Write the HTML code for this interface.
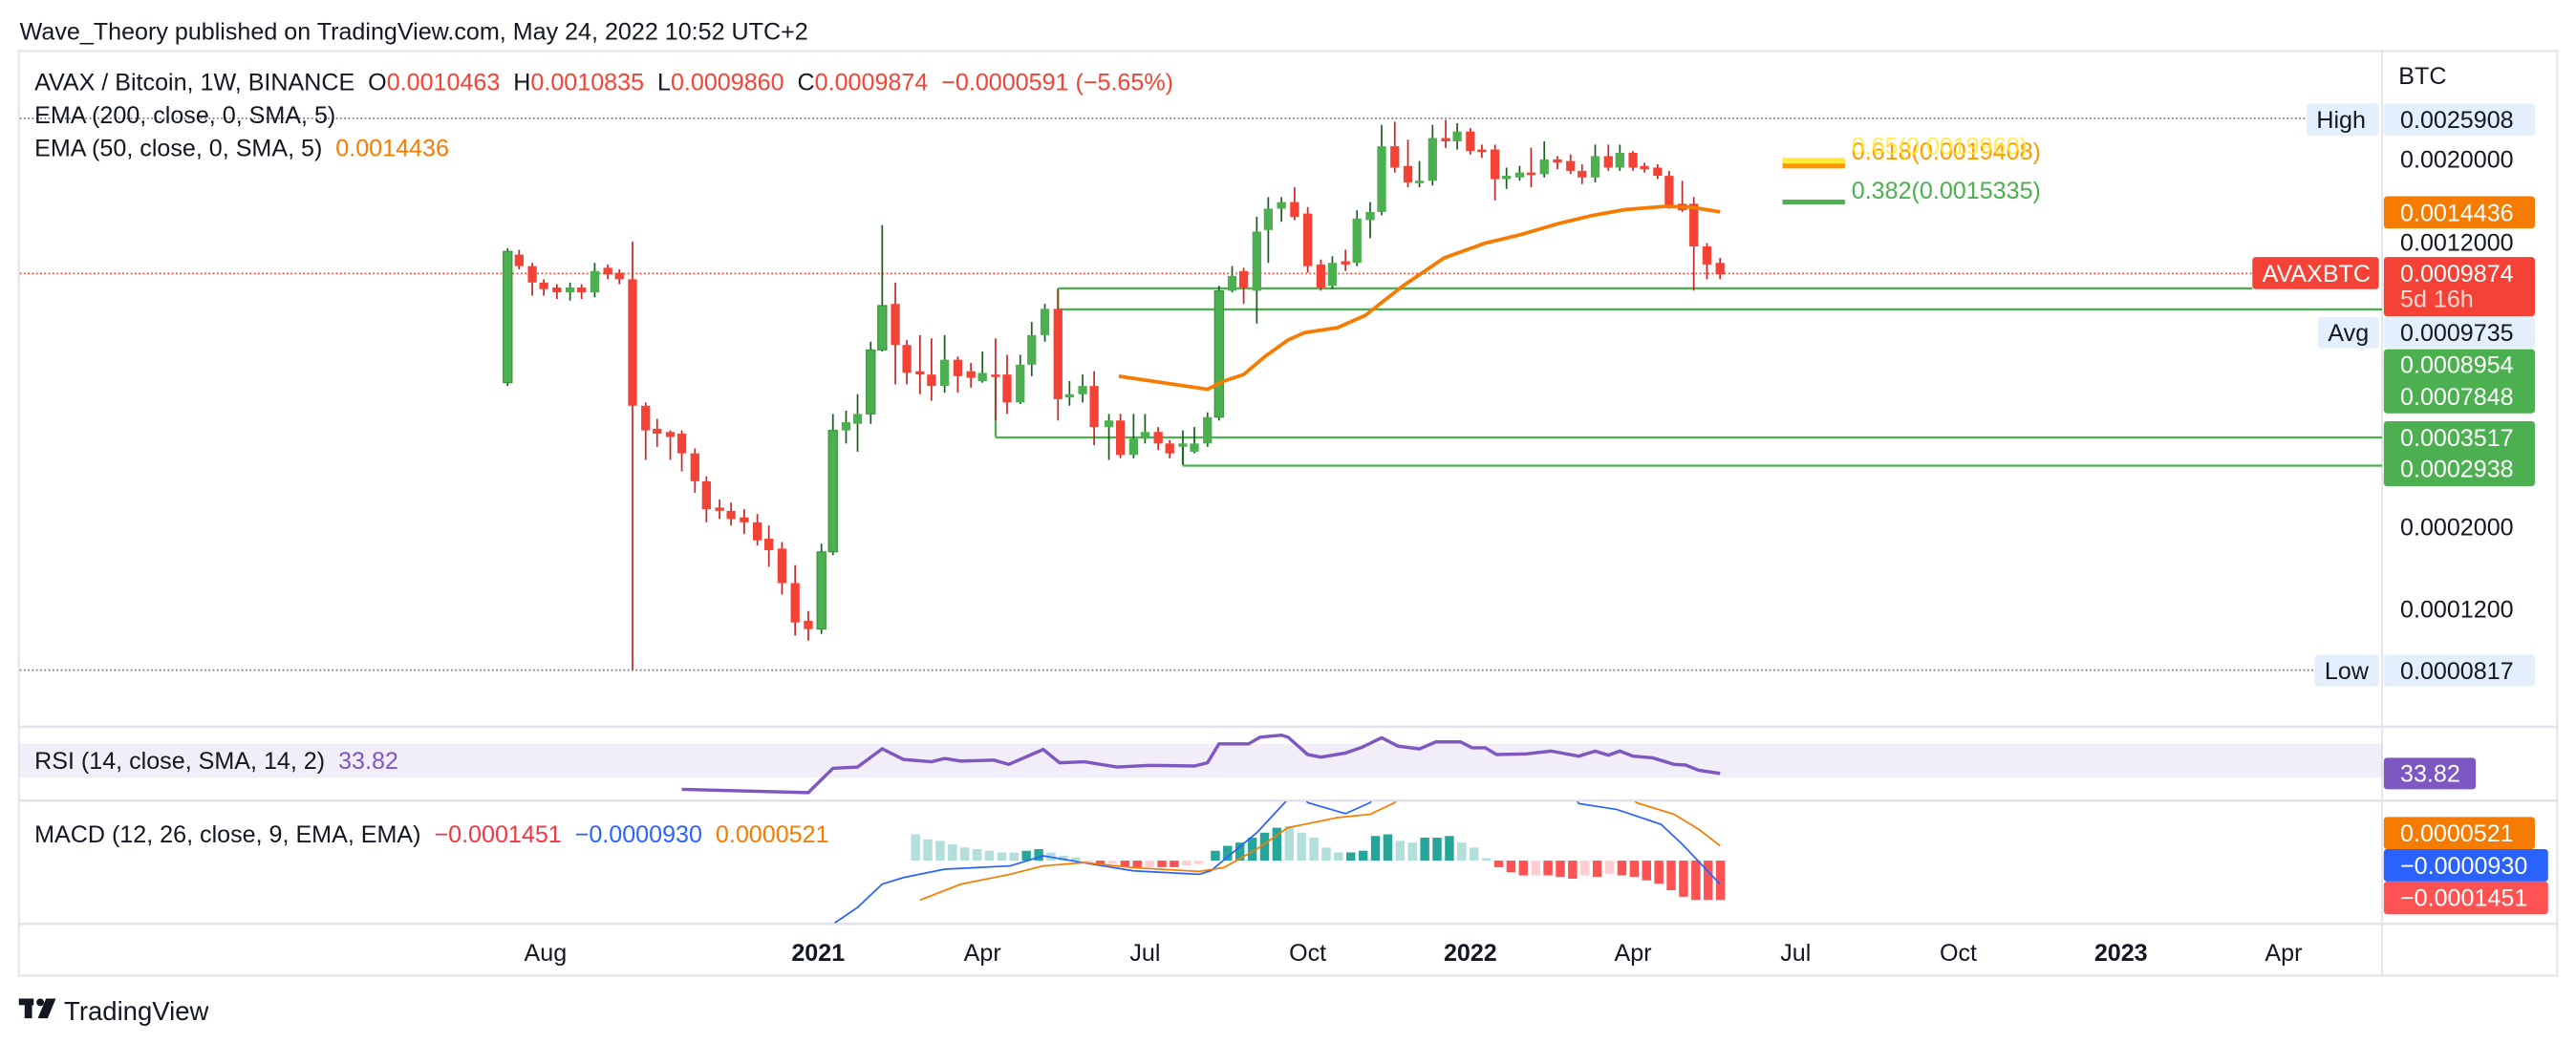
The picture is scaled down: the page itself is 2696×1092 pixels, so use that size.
<!DOCTYPE html>
<html><head><meta charset="utf-8"><style>
html,body{margin:0;padding:0;background:#fff;}
svg{display:block;}
text{font-family:"Liberation Sans",sans-serif;white-space:pre;}
</style></head><body>
<svg width="2696" height="1092" viewBox="0 0 1568 635" xmlns="http://www.w3.org/2000/svg" xml:space="preserve">
<rect x="0" y="0" width="1568" height="635" fill="#fff"/>
<text x="12" y="24" font-size="14.6" fill="#131722">Wave_Theory published on TradingView.com, May 24, 2022 10:52 UTC+2</text>
<rect x="11.5" y="31" width="1545" height="563" fill="none" stroke="#e8e8ee" stroke-width="1.5"/>
<line x1="1450" y1="31" x2="1450" y2="594" stroke="#e0e3eb" stroke-width="1"/>
<line x1="11.5" y1="442.5" x2="1557" y2="442.5" stroke="#e0e3eb" stroke-width="1.5"/>
<line x1="11.5" y1="487.5" x2="1557" y2="487.5" stroke="#e0e3eb" stroke-width="1.5"/>
<line x1="11.5" y1="562.5" x2="1557" y2="562.5" stroke="#e0e3eb" stroke-width="1.5"/>
<rect x="12" y="453" width="1438" height="20.5" fill="#7e57c2" fill-opacity="0.1"/>
<line x1="12" y1="72" x2="1404" y2="72" stroke="#787b86" stroke-width="1" stroke-dasharray="1,1.5"/>
<line x1="12" y1="408" x2="1409" y2="408" stroke="#787b86" stroke-width="1" stroke-dasharray="1,1.5"/>
<line x1="12" y1="166.5" x2="1371" y2="166.5" stroke="#f44336" stroke-width="1" stroke-dasharray="1,1.5"/>
<g stroke="#4caf50" stroke-width="1.3">
<line x1="644" y1="175.5" x2="1371" y2="175.5"/>
<line x1="644" y1="188.3" x2="1450" y2="188.3"/>
<line x1="606" y1="266.3" x2="1450" y2="266.3"/>
<line x1="720" y1="283.5" x2="1450" y2="283.5"/>
<line x1="644" y1="175.5" x2="644" y2="188"/>
<line x1="606" y1="229" x2="606" y2="266"/>
<line x1="720" y1="272" x2="720" y2="283"/>
</g>
<rect x="1085" y="96" width="38" height="3.5" fill="#ffeb3b"/>
<rect x="1085" y="99.5" width="38" height="3" fill="#ff9800"/>
<rect x="1085" y="121.5" width="38" height="3" fill="#4caf50"/>
<text x="1127" y="97" font-size="14.6" fill="#ff9800">0.618(0.0019408)</text>
<text x="1127" y="94" font-size="14.6" fill="#ffeb3b" fill-opacity="0.85">0.65(0.0019960)</text>
<text x="1127" y="121" font-size="14.6" fill="#4caf50">0.382(0.0015335)</text>
<g stroke-width="1">
<line x1="309" y1="151" x2="309" y2="235" stroke="#1b5e20"/><rect x="306.3" y="153" width="5.4" height="80" fill="#4caf50" stroke="#388e3c" stroke-width=".6"/>
<line x1="316" y1="152" x2="316" y2="164" stroke="#c62828"/><rect x="313.3" y="155" width="5.4" height="7" fill="#f44336"/>
<line x1="324" y1="160" x2="324" y2="180" stroke="#c62828"/><rect x="321.3" y="162" width="5.4" height="10" fill="#f44336"/>
<line x1="331" y1="170" x2="331" y2="180" stroke="#c62828"/><rect x="328.3" y="172" width="5.4" height="4" fill="#f44336"/>
<line x1="339" y1="173" x2="339" y2="182" stroke="#c62828"/><rect x="336.3" y="175" width="5.4" height="3" fill="#f44336"/>
<line x1="347" y1="172" x2="347" y2="183" stroke="#1b5e20"/><rect x="344.3" y="175" width="5.4" height="3" fill="#4caf50"/>
<line x1="354" y1="173" x2="354" y2="182" stroke="#c62828"/><rect x="351.3" y="175" width="5.4" height="3" fill="#f44336"/>
<line x1="362" y1="160" x2="362" y2="181" stroke="#1b5e20"/><rect x="359.3" y="165" width="5.4" height="13" fill="#4caf50"/>
<line x1="370" y1="161" x2="370" y2="170" stroke="#c62828"/><rect x="367.3" y="163" width="5.4" height="4" fill="#f44336"/>
<line x1="377" y1="164" x2="377" y2="173" stroke="#c62828"/><rect x="374.3" y="166" width="5.4" height="4" fill="#f44336"/>
<line x1="385" y1="147" x2="385" y2="408" stroke="#c62828"/><rect x="382.3" y="170" width="5.4" height="77" fill="#f44336"/>
<line x1="393" y1="245" x2="393" y2="280" stroke="#c62828"/><rect x="390.3" y="247" width="5.4" height="15" fill="#f44336"/>
<line x1="400" y1="255" x2="400" y2="272" stroke="#c62828"/><rect x="397.3" y="261" width="5.4" height="3" fill="#f44336"/>
<line x1="408" y1="262" x2="408" y2="280" stroke="#c62828"/><rect x="405.3" y="263" width="5.4" height="3" fill="#f44336"/>
<line x1="415" y1="262" x2="415" y2="287" stroke="#c62828"/><rect x="412.3" y="264" width="5.4" height="12" fill="#f44336"/>
<line x1="423" y1="273" x2="423" y2="300" stroke="#c62828"/><rect x="420.3" y="276" width="5.4" height="17" fill="#f44336"/>
<line x1="430" y1="290" x2="430" y2="318" stroke="#c62828"/><rect x="427.3" y="293" width="5.4" height="17" fill="#f44336"/>
<line x1="438" y1="304" x2="438" y2="316" stroke="#c62828"/><rect x="435.3" y="309" width="5.4" height="2" fill="#f44336"/>
<line x1="445" y1="306" x2="445" y2="320" stroke="#c62828"/><rect x="442.3" y="311" width="5.4" height="5" fill="#f44336"/>
<line x1="453" y1="310" x2="453" y2="325" stroke="#c62828"/><rect x="450.3" y="315" width="5.4" height="3" fill="#f44336"/>
<line x1="461" y1="313" x2="461" y2="332" stroke="#c62828"/><rect x="458.3" y="318" width="5.4" height="11" fill="#f44336"/>
<line x1="468" y1="320" x2="468" y2="345" stroke="#c62828"/><rect x="465.3" y="328" width="5.4" height="7" fill="#f44336"/>
<line x1="476" y1="330" x2="476" y2="362" stroke="#c62828"/><rect x="473.3" y="334" width="5.4" height="21" fill="#f44336"/>
<line x1="484" y1="344" x2="484" y2="387" stroke="#c62828"/><rect x="481.3" y="355" width="5.4" height="24" fill="#f44336"/>
<line x1="492" y1="372" x2="492" y2="390" stroke="#c62828"/><rect x="489.3" y="378" width="5.4" height="5" fill="#f44336"/>
<line x1="500" y1="331" x2="500" y2="386" stroke="#1b5e20"/><rect x="497.3" y="336" width="5.4" height="47" fill="#4caf50" stroke="#388e3c" stroke-width=".6"/>
<line x1="507" y1="252" x2="507" y2="338" stroke="#1b5e20"/><rect x="504.3" y="262" width="5.4" height="74" fill="#4caf50" stroke="#388e3c" stroke-width=".6"/>
<line x1="515" y1="250" x2="515" y2="270" stroke="#1b5e20"/><rect x="512.3" y="257" width="5.4" height="5" fill="#4caf50"/>
<line x1="522" y1="240" x2="522" y2="275" stroke="#1b5e20"/><rect x="519.3" y="252" width="5.4" height="6" fill="#4caf50"/>
<line x1="530" y1="208" x2="530" y2="258" stroke="#1b5e20"/><rect x="527.3" y="213" width="5.4" height="39" fill="#4caf50" stroke="#388e3c" stroke-width=".6"/>
<line x1="537" y1="137" x2="537" y2="214" stroke="#1b5e20"/><rect x="534.3" y="186" width="5.4" height="27" fill="#4caf50" stroke="#388e3c" stroke-width=".6"/>
<line x1="545" y1="172" x2="545" y2="234" stroke="#c62828"/><rect x="542.3" y="185" width="5.4" height="25" fill="#f44336"/>
<line x1="552" y1="207" x2="552" y2="234" stroke="#c62828"/><rect x="549.3" y="210" width="5.4" height="17" fill="#f44336"/>
<line x1="560" y1="204" x2="560" y2="240" stroke="#c62828"/><rect x="557.3" y="226" width="5.4" height="2" fill="#f44336"/>
<line x1="567" y1="206" x2="567" y2="244" stroke="#c62828"/><rect x="564.3" y="228" width="5.4" height="7" fill="#f44336"/>
<line x1="575" y1="204" x2="575" y2="239" stroke="#1b5e20"/><rect x="572.3" y="219" width="5.4" height="16" fill="#4caf50"/>
<line x1="583" y1="217" x2="583" y2="239" stroke="#c62828"/><rect x="580.3" y="219" width="5.4" height="10" fill="#f44336"/>
<line x1="591" y1="221" x2="591" y2="236" stroke="#c62828"/><rect x="588.3" y="226" width="5.4" height="4" fill="#f44336"/>
<line x1="598" y1="214" x2="598" y2="233" stroke="#1b5e20"/><rect x="595.3" y="227" width="5.4" height="5" fill="#4caf50"/>
<line x1="606" y1="206" x2="606" y2="256" stroke="#c62828"/><rect x="603.3" y="228" width="5.4" height="1.5" fill="#f44336"/>
<line x1="613" y1="216" x2="613" y2="252" stroke="#c62828"/><rect x="610.3" y="228" width="5.4" height="17" fill="#f44336"/>
<line x1="621" y1="216" x2="621" y2="246" stroke="#1b5e20"/><rect x="618.3" y="222" width="5.4" height="23" fill="#4caf50"/>
<line x1="628" y1="196" x2="628" y2="229" stroke="#1b5e20"/><rect x="625.3" y="204" width="5.4" height="18" fill="#4caf50"/>
<line x1="636" y1="185" x2="636" y2="208" stroke="#1b5e20"/><rect x="633.3" y="188" width="5.4" height="16" fill="#4caf50"/>
<line x1="644" y1="176" x2="644" y2="256" stroke="#c62828"/><rect x="641.3" y="188" width="5.4" height="55" fill="#f44336"/>
<line x1="651" y1="232" x2="651" y2="247" stroke="#1b5e20"/><rect x="648.3" y="240" width="5.4" height="2" fill="#4caf50"/>
<line x1="659" y1="228" x2="659" y2="245" stroke="#1b5e20"/><rect x="656.3" y="235" width="5.4" height="5" fill="#4caf50"/>
<line x1="666" y1="226" x2="666" y2="271" stroke="#c62828"/><rect x="663.3" y="235" width="5.4" height="25" fill="#f44336"/>
<line x1="675" y1="252" x2="675" y2="280" stroke="#1b5e20"/><rect x="672.3" y="256" width="5.4" height="4" fill="#4caf50"/>
<line x1="682" y1="252" x2="682" y2="279" stroke="#c62828"/><rect x="679.3" y="256" width="5.4" height="21" fill="#f44336"/>
<line x1="690" y1="252" x2="690" y2="279" stroke="#1b5e20"/><rect x="687.3" y="267" width="5.4" height="10" fill="#4caf50"/>
<line x1="697" y1="252" x2="697" y2="270" stroke="#1b5e20"/><rect x="694.3" y="263" width="5.4" height="4" fill="#4caf50"/>
<line x1="705" y1="260" x2="705" y2="274" stroke="#c62828"/><rect x="702.3" y="263" width="5.4" height="7" fill="#f44336"/>
<line x1="712" y1="268" x2="712" y2="279" stroke="#c62828"/><rect x="709.3" y="270" width="5.4" height="6" fill="#f44336"/>
<line x1="720" y1="262" x2="720" y2="283" stroke="#1b5e20"/><rect x="717.3" y="270" width="5.4" height="2" fill="#4caf50"/>
<line x1="727" y1="260" x2="727" y2="276" stroke="#1b5e20"/><rect x="724.3" y="270" width="5.4" height="5" fill="#4caf50"/>
<line x1="735" y1="251" x2="735" y2="272" stroke="#1b5e20"/><rect x="732.3" y="254" width="5.4" height="16" fill="#4caf50"/>
<line x1="742" y1="174" x2="742" y2="256" stroke="#1b5e20"/><rect x="739.3" y="177" width="5.4" height="77" fill="#4caf50" stroke="#388e3c" stroke-width=".6"/>
<line x1="750" y1="162" x2="750" y2="178" stroke="#1b5e20"/><rect x="747.3" y="168" width="5.4" height="9" fill="#4caf50"/>
<line x1="757" y1="163" x2="757" y2="185" stroke="#c62828"/><rect x="754.3" y="165" width="5.4" height="10" fill="#f44336"/>
<line x1="765" y1="132" x2="765" y2="197" stroke="#1b5e20"/><rect x="762.3" y="141" width="5.4" height="36" fill="#4caf50"/>
<line x1="772" y1="120" x2="772" y2="160" stroke="#1b5e20"/><rect x="769.3" y="127" width="5.4" height="13" fill="#4caf50"/>
<line x1="780" y1="120" x2="780" y2="135" stroke="#1b5e20"/><rect x="777.3" y="123" width="5.4" height="4" fill="#4caf50"/>
<line x1="788" y1="114" x2="788" y2="134" stroke="#c62828"/><rect x="785.3" y="123" width="5.4" height="9" fill="#f44336"/>
<line x1="796" y1="126" x2="796" y2="166" stroke="#c62828"/><rect x="793.3" y="130" width="5.4" height="32" fill="#f44336"/>
<line x1="804" y1="158" x2="804" y2="177" stroke="#c62828"/><rect x="801.3" y="161" width="5.4" height="14" fill="#f44336"/>
<line x1="811" y1="156" x2="811" y2="176" stroke="#1b5e20"/><rect x="808.3" y="160" width="5.4" height="14" fill="#4caf50"/>
<line x1="819" y1="152" x2="819" y2="165" stroke="#c62828"/><rect x="816.3" y="159" width="5.4" height="2" fill="#f44336"/>
<line x1="826" y1="128" x2="826" y2="162" stroke="#1b5e20"/><rect x="823.3" y="133" width="5.4" height="27" fill="#4caf50"/>
<line x1="834" y1="123" x2="834" y2="145" stroke="#1b5e20"/><rect x="831.3" y="129" width="5.4" height="5" fill="#4caf50"/>
<line x1="841" y1="76" x2="841" y2="131" stroke="#1b5e20"/><rect x="838.3" y="89" width="5.4" height="40" fill="#4caf50"/>
<line x1="849" y1="74" x2="849" y2="105" stroke="#c62828"/><rect x="846.3" y="89" width="5.4" height="13" fill="#f44336"/>
<line x1="857" y1="85" x2="857" y2="114" stroke="#c62828"/><rect x="854.3" y="101" width="5.4" height="10" fill="#f44336"/>
<line x1="864" y1="98" x2="864" y2="114" stroke="#1b5e20"/><rect x="861.3" y="110" width="5.4" height="1.5" fill="#4caf50"/>
<line x1="872" y1="76" x2="872" y2="113" stroke="#1b5e20"/><rect x="869.3" y="84" width="5.4" height="26" fill="#4caf50"/>
<line x1="880" y1="73" x2="880" y2="90" stroke="#c62828"/><rect x="877.3" y="84" width="5.4" height="2" fill="#f44336"/>
<line x1="887" y1="75" x2="887" y2="91" stroke="#1b5e20"/><rect x="884.3" y="80" width="5.4" height="6" fill="#4caf50"/>
<line x1="895" y1="78" x2="895" y2="94" stroke="#c62828"/><rect x="892.3" y="80" width="5.4" height="12" fill="#f44336"/>
<line x1="902" y1="88" x2="902" y2="96" stroke="#c62828"/><rect x="899.3" y="91" width="5.4" height="1.5" fill="#f44336"/>
<line x1="910" y1="88" x2="910" y2="122" stroke="#c62828"/><rect x="907.3" y="91" width="5.4" height="18" fill="#f44336"/>
<line x1="917" y1="102" x2="917" y2="115" stroke="#1b5e20"/><rect x="914.3" y="107" width="5.4" height="2" fill="#4caf50"/>
<line x1="925" y1="101" x2="925" y2="110" stroke="#1b5e20"/><rect x="922.3" y="105" width="5.4" height="3" fill="#4caf50"/>
<line x1="932" y1="90" x2="932" y2="114" stroke="#c62828"/><rect x="929.3" y="105" width="5.4" height="1.5" fill="#f44336"/>
<line x1="940" y1="86" x2="940" y2="108" stroke="#1b5e20"/><rect x="937.3" y="97" width="5.4" height="9" fill="#4caf50"/>
<line x1="948" y1="95" x2="948" y2="103" stroke="#c62828"/><rect x="945.3" y="97" width="5.4" height="2" fill="#f44336"/>
<line x1="956" y1="94" x2="956" y2="106" stroke="#c62828"/><rect x="953.3" y="98" width="5.4" height="6" fill="#f44336"/>
<line x1="963" y1="100" x2="963" y2="112" stroke="#c62828"/><rect x="960.3" y="104" width="5.4" height="4" fill="#f44336"/>
<line x1="971" y1="88" x2="971" y2="111" stroke="#1b5e20"/><rect x="968.3" y="95" width="5.4" height="13" fill="#4caf50"/>
<line x1="979" y1="88" x2="979" y2="104" stroke="#c62828"/><rect x="976.3" y="95" width="5.4" height="7" fill="#f44336"/>
<line x1="986" y1="88" x2="986" y2="104" stroke="#1b5e20"/><rect x="983.3" y="93" width="5.4" height="9" fill="#4caf50"/>
<line x1="994" y1="92" x2="994" y2="104" stroke="#c62828"/><rect x="991.3" y="93" width="5.4" height="9" fill="#f44336"/>
<line x1="1001" y1="99" x2="1001" y2="105" stroke="#c62828"/><rect x="998.3" y="101" width="5.4" height="2" fill="#f44336"/>
<line x1="1009" y1="100" x2="1009" y2="109" stroke="#c62828"/><rect x="1006.3" y="102" width="5.4" height="5" fill="#f44336"/>
<line x1="1016" y1="104" x2="1016" y2="127" stroke="#c62828"/><rect x="1013.3" y="107" width="5.4" height="18" fill="#f44336"/>
<line x1="1024" y1="110" x2="1024" y2="129" stroke="#c62828"/><rect x="1021.3" y="124" width="5.4" height="4" fill="#f44336"/>
<line x1="1031" y1="120" x2="1031" y2="177" stroke="#c62828"/><rect x="1028.3" y="124" width="5.4" height="26" fill="#f44336"/>
<line x1="1039" y1="148" x2="1039" y2="170" stroke="#c62828"/><rect x="1036.3" y="150" width="5.4" height="11" fill="#f44336"/>
<line x1="1047" y1="157" x2="1047" y2="170" stroke="#c62828"/><rect x="1044.3" y="160" width="5.4" height="7" fill="#f44336"/>
</g>
<polyline fill="none" stroke="#f57c00" stroke-width="2.2" points="681,229 708,233 735,237 745,232 757,228 770,217 784,207 794,202.5 814,199.5 831,192 854,174 879,157 904,148 925,143 949,136 970,131 989,127.6 1014,125.6 1029,126 1047,129"/>
<text x="21" y="55" font-size="14.6" fill="#131722">AVAX / Bitcoin, 1W, BINANCE  O<tspan fill="#f44336">0.0010463</tspan>  H<tspan fill="#f44336">0.0010835</tspan>  L<tspan fill="#f44336">0.0009860</tspan>  C<tspan fill="#f44336">0.0009874</tspan>  <tspan fill="#f44336">−0.0000591 (−5.65%)</tspan></text>
<text x="21" y="75" font-size="14.6" fill="#131722">EMA (200, close, 0, SMA, 5)</text>
<text x="21" y="95" font-size="14.6" fill="#131722">EMA (50, close, 0, SMA, 5)  <tspan fill="#f57c00">0.0014436</tspan></text>
<text x="21" y="468" font-size="14.6" fill="#131722">RSI (14, close, SMA, 14, 2)  <tspan fill="#7e57c2">33.82</tspan></text>
<text x="21" y="513" font-size="14.6" fill="#131722">MACD (12, 26, close, 9, EMA, EMA)  <tspan fill="#f23645">−0.0001451</tspan>  <tspan fill="#2962ff">−0.0000930</tspan>  <tspan fill="#f57c00">0.0000521</tspan></text>
<polyline fill="none" stroke="#7e57c2" stroke-width="2" points="415,480.6 492,482.6 507,467.8 522,467 537,455.9 550,462.4 567,463.8 575,461.8 585,463.4 605,462.8 614,465.4 635,456.3 645,464.4 660,463.8 680,467 700,466 727,466.4 735,464.4 742,452.9 760,452.9 767,448.8 780,447.6 784,448.8 796,459.4 804,461 819,458.5 829,455 841,449.2 851,454.3 864,456 874,451.7 889,451.7 896,455.3 904,455.3 911,459.4 929,459 944,457.3 961,460.4 971,457.3 979,459.8 986,457.3 994,460.4 1006,461.4 1019,465.4 1026,465.8 1034,469 1047,470.9"/>
<svg x="12" y="488" width="1438" height="74" viewBox="12 488 1438 74" overflow="hidden">
<g>
<rect x="554.5" y="508" width="5.5" height="16" fill="#b2dfdb"/>
<rect x="562" y="511" width="5.5" height="13" fill="#b2dfdb"/>
<rect x="569.5" y="512" width="5.5" height="12" fill="#b2dfdb"/>
<rect x="577" y="514" width="5.5" height="10" fill="#b2dfdb"/>
<rect x="584.5" y="516" width="5.5" height="8" fill="#b2dfdb"/>
<rect x="592" y="517" width="5.5" height="7" fill="#b2dfdb"/>
<rect x="599.5" y="518" width="5.5" height="6" fill="#b2dfdb"/>
<rect x="607" y="519" width="5.5" height="5" fill="#b2dfdb"/>
<rect x="614.5" y="519" width="5.5" height="5" fill="#b2dfdb"/>
<rect x="622" y="518" width="5.5" height="6" fill="#26a69a"/>
<rect x="629.5" y="517" width="5.5" height="7" fill="#26a69a"/>
<rect x="637" y="519" width="5.5" height="5" fill="#b2dfdb"/>
<rect x="644.5" y="521" width="5.5" height="3" fill="#b2dfdb"/>
<rect x="652" y="522" width="5.5" height="2" fill="#b2dfdb"/>
<rect x="659.5" y="524" width="5.5" height="1.5" fill="#ffcdd2"/>
<rect x="667" y="524" width="5.5" height="3" fill="#ff5252"/>
<rect x="674.5" y="524" width="5.5" height="2" fill="#ffcdd2"/>
<rect x="682" y="524" width="5.5" height="4" fill="#ff5252"/>
<rect x="689.5" y="524" width="5.5" height="4" fill="#ff5252"/>
<rect x="697" y="524" width="5.5" height="4" fill="#ffcdd2"/>
<rect x="704.5" y="524" width="5.5" height="4" fill="#ff5252"/>
<rect x="712" y="524" width="5.5" height="4" fill="#ff5252"/>
<rect x="719.5" y="524" width="5.5" height="3" fill="#ffcdd2"/>
<rect x="727" y="524" width="5.5" height="2" fill="#ffcdd2"/>
<rect x="737" y="518" width="5.5" height="6" fill="#26a69a"/>
<rect x="744.5" y="515" width="5.5" height="9" fill="#26a69a"/>
<rect x="752" y="513" width="5.5" height="11" fill="#26a69a"/>
<rect x="759.5" y="510" width="5.5" height="14" fill="#26a69a"/>
<rect x="767" y="507" width="5.5" height="17" fill="#26a69a"/>
<rect x="774.5" y="504" width="5.5" height="20" fill="#26a69a"/>
<rect x="782" y="503" width="5.5" height="21" fill="#b2dfdb"/>
<rect x="789.5" y="507" width="5.5" height="17" fill="#b2dfdb"/>
<rect x="797" y="510" width="5.5" height="14" fill="#b2dfdb"/>
<rect x="804.5" y="516" width="5.5" height="8" fill="#b2dfdb"/>
<rect x="812" y="519" width="5.5" height="5" fill="#b2dfdb"/>
<rect x="819.5" y="519" width="5.5" height="5" fill="#26a69a"/>
<rect x="827" y="518" width="5.5" height="6" fill="#26a69a"/>
<rect x="834.5" y="509" width="5.5" height="15" fill="#26a69a"/>
<rect x="842" y="508" width="5.5" height="16" fill="#26a69a"/>
<rect x="849.5" y="512" width="5.5" height="12" fill="#b2dfdb"/>
<rect x="857" y="513" width="5.5" height="11" fill="#b2dfdb"/>
<rect x="864.5" y="510" width="5.5" height="14" fill="#26a69a"/>
<rect x="872" y="510" width="5.5" height="14" fill="#26a69a"/>
<rect x="879.5" y="509" width="5.5" height="15" fill="#26a69a"/>
<rect x="887" y="513" width="5.5" height="11" fill="#b2dfdb"/>
<rect x="894.5" y="516" width="5.5" height="8" fill="#b2dfdb"/>
<rect x="902" y="522.5" width="5.5" height="1.5" fill="#b2dfdb"/>
<rect x="909.5" y="524" width="5.5" height="4" fill="#ff5252"/>
<rect x="917" y="524" width="5.5" height="7" fill="#ff5252"/>
<rect x="924.5" y="524" width="5.5" height="9" fill="#ff5252"/>
<rect x="932" y="524" width="5.5" height="9" fill="#ffcdd2"/>
<rect x="939.5" y="524" width="5.5" height="9" fill="#ff5252"/>
<rect x="947" y="524" width="5.5" height="10" fill="#ff5252"/>
<rect x="954.5" y="524" width="5.5" height="11" fill="#ff5252"/>
<rect x="962" y="524" width="5.5" height="9" fill="#ffcdd2"/>
<rect x="969.5" y="524" width="5.5" height="10" fill="#ff5252"/>
<rect x="977" y="524" width="5.5" height="8" fill="#ffcdd2"/>
<rect x="984.5" y="524" width="5.5" height="9" fill="#ff5252"/>
<rect x="992" y="524" width="5.5" height="10" fill="#ff5252"/>
<rect x="999.5" y="524" width="5.5" height="12" fill="#ff5252"/>
<rect x="1007" y="524" width="5.5" height="14" fill="#ff5252"/>
<rect x="1014.5" y="524" width="5.5" height="18" fill="#ff5252"/>
<rect x="1022" y="524" width="5.5" height="22" fill="#ff5252"/>
<rect x="1029.5" y="524" width="5.5" height="24" fill="#ff5252"/>
<rect x="1037" y="524" width="5.5" height="24" fill="#ff5252"/>
<rect x="1044.5" y="524" width="5.5" height="24" fill="#ff5252"/>
</g>
<polyline fill="none" stroke="#2962ff" stroke-width="1" points="508,562 522,552.5 537,538.3 550,534.3 575,529.2 615,527.2 635,521.1 665,526.2 690,530.2 730,532.3 737,530.2 765,507 782,488.7 790,480 796,488.7 819,495.4 834,488.7 845,470 950,470 961,489.3 984,492.8 999,497.8 1011,501.9 1024,514 1047,538.3"/>
<polyline fill="none" stroke="#f57c00" stroke-width="1" points="560,548 585,538.3 615,532.3 635,527.2 660,525.2 690,528.3 730,530.6 745,528.2 765,517 784,503.9 794,501.9 814,497.8 834,495.8 849,488.7 860,475 985,475 996,488.7 1019,495.8 1034,504.9 1047,515"/>
</svg>
<g font-size="14.6" fill="#131722">
<text x="1460" y="51">BTC</text>
<rect x="1404" y="63" width="44" height="19.5" rx="2" fill="#e3effd"/>
<text x="1410" y="78">High</text>
<rect x="1451" y="63" width="92" height="19.5" rx="2" fill="#e3effd"/>
<text x="1461" y="78">0.0025908</text>
<text x="1461" y="102">0.0020000</text>
<rect x="1451" y="119.5" width="92" height="19.5" rx="2" fill="#f57c00"/>
<text x="1461" y="134.5" fill="#fff">0.0014436</text>
<text x="1461" y="152.5">0.0012000</text>
<rect x="1371" y="156.5" width="77" height="19.5" rx="2" fill="#f44336"/>
<text x="1377" y="171.5" fill="#fff">AVAXBTC</text>
<rect x="1451" y="156.5" width="92" height="36" rx="2" fill="#f44336"/>
<text x="1461" y="171.5" fill="#fff">0.0009874</text>
<text x="1461" y="187" fill="#fff" fill-opacity="0.8">5d 16h</text>
<rect x="1411" y="193" width="37" height="19" rx="2" fill="#e3effd"/>
<text x="1417" y="207.5">Avg</text>
<rect x="1451" y="193" width="92" height="19" rx="2" fill="#e3effd"/>
<text x="1461" y="207.5">0.0009735</text>
<rect x="1451" y="212.6" width="92" height="39" rx="2" fill="#4caf50"/>
<text x="1461" y="227" fill="#fff">0.0008954</text>
<text x="1461" y="246.5" fill="#fff">0.0007848</text>
<rect x="1451" y="256.4" width="92" height="39.6" rx="2" fill="#4caf50"/>
<text x="1461" y="271.5" fill="#fff">0.0003517</text>
<text x="1461" y="290.5" fill="#fff">0.0002938</text>
<text x="1461" y="326">0.0002000</text>
<text x="1461" y="376">0.0001200</text>
<rect x="1409" y="398.6" width="39" height="19.2" rx="2" fill="#e3effd"/>
<text x="1415" y="413.5">Low</text>
<rect x="1451" y="398.6" width="92" height="19.2" rx="2" fill="#e3effd"/>
<text x="1461" y="413.5">0.0000817</text>
<rect x="1451" y="461.4" width="56" height="19.2" rx="2" fill="#7e57c2"/>
<text x="1461" y="476" fill="#fff">33.82</text>
<rect x="1451" y="497.4" width="92" height="19.6" rx="2" fill="#f57c00"/>
<text x="1461" y="512.3" fill="#fff">0.0000521</text>
<rect x="1451" y="517" width="100" height="19.7" rx="2" fill="#2962ff"/>
<text x="1461" y="532" fill="#fff">−0.0000930</text>
<rect x="1451" y="536.7" width="100" height="19.9" rx="2" fill="#ff5252"/>
<text x="1461" y="551.7" fill="#fff">−0.0001451</text>
</g>
<g font-size="14.6" fill="#131722" text-anchor="middle">
<text x="332" y="585">Aug</text>
<text x="498" y="585" font-weight="bold">2021</text>
<text x="598" y="585">Apr</text>
<text x="697" y="585">Jul</text>
<text x="796" y="585">Oct</text>
<text x="895" y="585" font-weight="bold">2022</text>
<text x="994" y="585">Apr</text>
<text x="1093" y="585">Jul</text>
<text x="1192" y="585">Oct</text>
<text x="1291" y="585" font-weight="bold">2023</text>
<text x="1390" y="585">Apr</text>
</g>
<g fill="#131722">
<rect x="11.5" y="608" width="9" height="4"/>
<rect x="15" y="608" width="4.5" height="12"/>
<circle cx="24.5" cy="610.3" r="2.3"/>
<polygon points="28,608 34,608 29,620 23,620"/>
</g>
<text x="39" y="621" font-size="16" fill="#131722">TradingView</text>
</svg>
</body></html>
